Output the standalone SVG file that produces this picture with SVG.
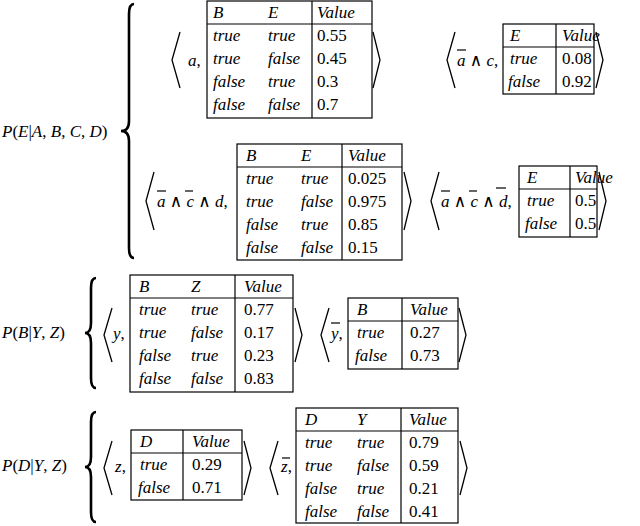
<svg xmlns="http://www.w3.org/2000/svg" width="640" height="526" viewBox="0 0 640 526">
<style>
text{font-family:"Liberation Serif","DejaVu Serif",serif;font-size:17px;fill:#000}
.i{font-style:italic}
.t{fill:#fff;stroke:#000;stroke-width:1.2}
.l{stroke:#000;stroke-width:1.2;fill:none}
.b{stroke:#000;stroke-width:1.3;fill:none}
.br{stroke:#000;stroke-width:2.6;fill:none}
</style>
<rect width="640" height="526" fill="#fff"/>
<!-- labels -->
<text x="2" y="137"><tspan class="i">P</tspan>(<tspan class="i">E</tspan>|<tspan class="i">A</tspan>, <tspan class="i">B</tspan>, <tspan class="i">C</tspan>, <tspan class="i">D</tspan>)</text>
<text x="2" y="338"><tspan class="i">P</tspan>(<tspan class="i">B</tspan>|<tspan class="i">Y</tspan>, <tspan class="i">Z</tspan>)</text>
<text x="2" y="471"><tspan class="i">P</tspan>(<tspan class="i">D</tspan>|<tspan class="i">Y</tspan>, <tspan class="i">Z</tspan>)</text>
<!-- braces -->
<path class="br" d="M134,4 Q129,4 129,14 L129,121 Q129,131 121,131 Q129,131 129,141 L129,248 Q129,258 134,258"/>
<path class="br" d="M96,278 Q91,278 91,288 L91,323 Q91,333 85,333 Q91,333 91,343 L91,378 Q91,388 96,388"/>
<path class="br" d="M96,412 Q91,412 91,422 L91,457 Q91,467 85,467 Q91,467 91,477 L91,512 Q91,522 96,522"/>
<!-- angle brackets -->
<g class="b">
<polyline points="180,32 172,60 180,88"/><polyline points="373,32 380,60 373,88"/>
<polyline points="455,32 447,60 455,88"/><polyline points="596,32 603,60 596,88"/>
<polyline points="154,172 146,201 154,230"/><polyline points="404,172 411,201 404,230"/>
<polyline points="439,172 431,201 439,230"/><polyline points="599,172 606,201 599,230"/>
<polyline points="112,308 104,335 112,362"/><polyline points="295,308 302,335 295,362"/>
<polyline points="329,308 321,335 329,362"/><polyline points="459,308 466,335 459,362"/>
<polyline points="112,441 104,468 112,495"/><polyline points="244,441 251,468 244,495"/>
<polyline points="278,441 270,468 278,495"/><polyline points="460,441 467,468 460,495"/>
</g>
<!-- prefix texts -->
<text class="i" x="188" y="66">a<tspan font-style="normal">,</tspan></text>
<text class="i" x="457" y="66">a <tspan font-style="normal">∧</tspan> c<tspan font-style="normal">,</tspan></text>
<text class="i" x="157" y="207">a <tspan font-style="normal">∧</tspan> c <tspan font-style="normal">∧</tspan> d<tspan font-style="normal">,</tspan></text>
<text class="i" x="441" y="207">a <tspan font-style="normal">∧</tspan> c <tspan font-style="normal">∧</tspan> d<tspan font-style="normal">,</tspan></text>
<text class="i" x="113" y="339">y<tspan font-style="normal">,</tspan></text>
<text class="i" x="331" y="339">y<tspan font-style="normal">,</tspan></text>
<text class="i" x="115" y="472">z<tspan font-style="normal">,</tspan></text>
<text class="i" x="281" y="472">z<tspan font-style="normal">,</tspan></text>
<g class="l">
<line x1="457" y1="50" x2="466" y2="50"/>
<line x1="157" y1="191" x2="166" y2="191"/><line x1="185" y1="191" x2="193" y2="191"/>
<line x1="441" y1="191" x2="450" y2="191"/><line x1="469" y1="191" x2="477" y2="191"/><line x1="496" y1="188" x2="506" y2="188"/>
<line x1="331" y1="323" x2="340" y2="323"/>
<line x1="282" y1="458" x2="290" y2="458"/>
</g>
<!-- table 1 -->
<g id="t1">
<rect class="t" x="207" y="1" width="165" height="117"/><line class="l" x1="207" y1="24" x2="372" y2="24"/><line class="l" x1="312" y1="1" x2="312" y2="118"/>
<text class="i" x="213" y="18">B</text><text class="i" x="268" y="18">E</text><text class="i" x="317" y="18">Value</text>
<text class="i" x="213" y="41">true</text><text class="i" x="268" y="41">true</text><text x="317" y="41">0.55</text>
<text class="i" x="213" y="64">true</text><text class="i" x="268" y="64">false</text><text x="317" y="64">0.45</text>
<text class="i" x="213" y="87">false</text><text class="i" x="268" y="87">true</text><text x="317" y="87">0.3</text>
<text class="i" x="213" y="110">false</text><text class="i" x="268" y="110">false</text><text x="317" y="110">0.7</text>
</g>
<g id="t2">
<rect class="t" x="503" y="24" width="91" height="70"/><line class="l" x1="503" y1="47" x2="594" y2="47"/><line class="l" x1="556" y1="24" x2="556" y2="94"/>
<text class="i" x="510" y="41">E</text><text class="i" x="562" y="41">Value</text>
<text class="i" x="510" y="64">true</text><text x="562" y="64">0.08</text>
<text class="i" x="508" y="87">false</text><text x="562" y="87">0.92</text>
</g>
<g id="t3">
<rect class="t" x="237" y="144" width="165" height="116"/><line class="l" x1="237" y1="167" x2="402" y2="167"/><line class="l" x1="342" y1="144" x2="342" y2="260"/>
<text class="i" x="246" y="161">B</text><text class="i" x="301" y="161">E</text><text class="i" x="348" y="161">Value</text>
<text class="i" x="246" y="184">true</text><text class="i" x="301" y="184">true</text><text x="348" y="184">0.025</text>
<text class="i" x="246" y="207">true</text><text class="i" x="301" y="207">false</text><text x="348" y="207">0.975</text>
<text class="i" x="246" y="230">false</text><text class="i" x="301" y="230">true</text><text x="348" y="230">0.85</text>
<text class="i" x="246" y="253">false</text><text class="i" x="301" y="253">false</text><text x="348" y="253">0.15</text>
</g>
<g id="t4">
<rect class="t" x="519" y="166" width="78" height="71"/><line class="l" x1="519" y1="189" x2="597" y2="189"/><line class="l" x1="570" y1="166" x2="570" y2="237"/>
<text class="i" x="527" y="183">E</text><text class="i" x="575" y="183">Value</text>
<text class="i" x="527" y="206">true</text><text x="575" y="206">0.5</text>
<text class="i" x="525" y="229">false</text><text x="575" y="229">0.5</text>
</g>
<g id="t5">
<rect class="t" x="130" y="275" width="163" height="117"/><line class="l" x1="130" y1="298" x2="293" y2="298"/><line class="l" x1="235" y1="275" x2="235" y2="392"/>
<text class="i" x="139" y="292">B</text><text class="i" x="191" y="292">Z</text><text class="i" x="244" y="292">Value</text>
<text class="i" x="139" y="315">true</text><text class="i" x="191" y="315">true</text><text x="244" y="315">0.77</text>
<text class="i" x="139" y="338">true</text><text class="i" x="191" y="338">false</text><text x="244" y="338">0.17</text>
<text class="i" x="139" y="361">false</text><text class="i" x="191" y="361">true</text><text x="244" y="361">0.23</text>
<text class="i" x="139" y="384">false</text><text class="i" x="191" y="384">false</text><text x="244" y="384">0.83</text>
</g>
<g id="t6">
<rect class="t" x="348" y="298" width="110" height="71"/><line class="l" x1="348" y1="321" x2="458" y2="321"/><line class="l" x1="402" y1="298" x2="402" y2="369"/>
<text class="i" x="357" y="315">B</text><text class="i" x="410" y="315">Value</text>
<text class="i" x="357" y="338">true</text><text x="410" y="338">0.27</text>
<text class="i" x="355" y="361">false</text><text x="410" y="361">0.73</text>
</g>
<g id="t7">
<rect class="t" x="131" y="430" width="111" height="70"/><line class="l" x1="131" y1="453" x2="242" y2="453"/><line class="l" x1="183" y1="430" x2="183" y2="500"/>
<text class="i" x="140" y="447">D</text><text class="i" x="192" y="447">Value</text>
<text class="i" x="140" y="470">true</text><text x="192" y="470">0.29</text>
<text class="i" x="138" y="493">false</text><text x="192" y="493">0.71</text>
</g>
<g id="t8">
<rect class="t" x="296" y="408" width="162" height="115"/><line class="l" x1="296" y1="431" x2="458" y2="431"/><line class="l" x1="401" y1="408" x2="401" y2="523"/>
<text class="i" x="305" y="425">D</text><text class="i" x="357" y="425">Y</text><text class="i" x="409" y="425">Value</text>
<text class="i" x="305" y="448">true</text><text class="i" x="357" y="448">true</text><text x="409" y="448">0.79</text>
<text class="i" x="305" y="471">true</text><text class="i" x="357" y="471">false</text><text x="409" y="471">0.59</text>
<text class="i" x="305" y="494">false</text><text class="i" x="357" y="494">true</text><text x="409" y="494">0.21</text>
<text class="i" x="305" y="517">false</text><text class="i" x="357" y="517">false</text><text x="409" y="517">0.41</text>
</g>
</svg>
